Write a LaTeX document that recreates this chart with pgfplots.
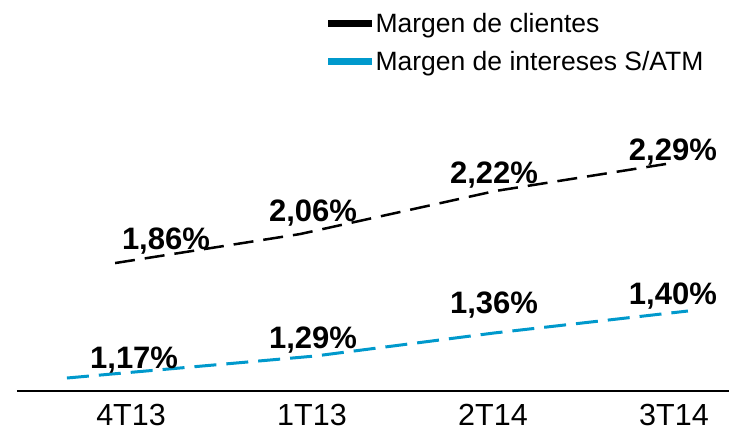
\documentclass[border=0pt]{standalone}
\usepackage{fontspec}
\setmainfont{Liberation Sans}
\usepackage{pgfplots}
\pgfplotsset{compat=1.18}
\definecolor{atmblue}{HTML}{0099CC}
\begin{document}
\begin{tikzpicture}
\useasboundingbox (0,0) rectangle (729pt,432pt);
\pgfplotsset{base/.style={
  at={(17pt,41pt)}, anchor=south west,
  scale only axis, width=712pt, height=291pt,
  xmin=-0.63, xmax=3.304, clip=false,
}}
% Blue series + x axis
\begin{axis}[base,
  ymin=1.1254, ymax=2.1243,
  axis y line=none, axis x line*=bottom,
  x axis line style={-, line width=2.5pt, black},
  xtick={0,1,2,3}, xticklabels={4T13,1T13,2T14,3T14},
  major tick length=0pt,
  xticklabel style={font=\fontsize{30.5}{36}\selectfont, inner sep=0pt, yshift=-13pt},
]
\addplot[atmblue, line width=3pt, dash pattern=on 22pt off 10pt] coordinates {
  (-0.354,1.17) (1.017,1.2455) (2.006,1.3245) (3.077,1.40)};
\begin{scope}[every node/.style={anchor=base, inner sep=0pt, font=\fontsize{31}{36}\selectfont\bfseries}]
\node at (axis cs:0.017,1.2043) {1,17\%};
\node at (axis cs:1.006,1.2730) {1,29\%};
\node at (axis cs:2.006,1.3931) {1,36\%};
\node at (axis cs:2.994,1.4240) {1,40\%};
\end{scope}
\end{axis}
% Black series + legend
\begin{axis}[base,
  ymin=1.310, ymax=2.561,
  hide axis,
  legend style={at={(0.4326,1.298)}, anchor=north west, draw=none, fill=none,
    inner sep=0pt, outer sep=0pt, row sep=17pt,
    font=\fontsize{26.5}{30}\selectfont,
    nodes={inner sep=0pt}, cells={anchor=west},
    /tikz/every even column/.append style={column sep=5pt}},
  legend image code/.code={\draw[line width=6.5pt, solid] (0pt,0pt) -- (44pt,0pt);},
]
\addplot[black, line width=2.5pt, dash pattern=on 20pt off 10pt, forget plot] coordinates {
  (-0.088,1.86) (0.934,1.9847) (2.011,2.1695) (2.989,2.29)};
\addlegendimage{black}
\addlegendentry{Margen de clientes}
\addlegendimage{atmblue}
\addlegendentry{Margen de intereses S/ATM}
\begin{scope}[every node/.style={anchor=base, inner sep=0pt, font=\fontsize{31}{36}\selectfont\bfseries}]
\node at (axis cs:0.193,1.9202) {1,86\%};
\node at (axis cs:1.0055,2.0406) {2,06\%};
\node at (axis cs:2.006,2.2039) {2,22\%};
\node at (axis cs:2.994,2.3028) {2,29\%};
\end{scope}
\end{axis}
\end{tikzpicture}
\end{document}
